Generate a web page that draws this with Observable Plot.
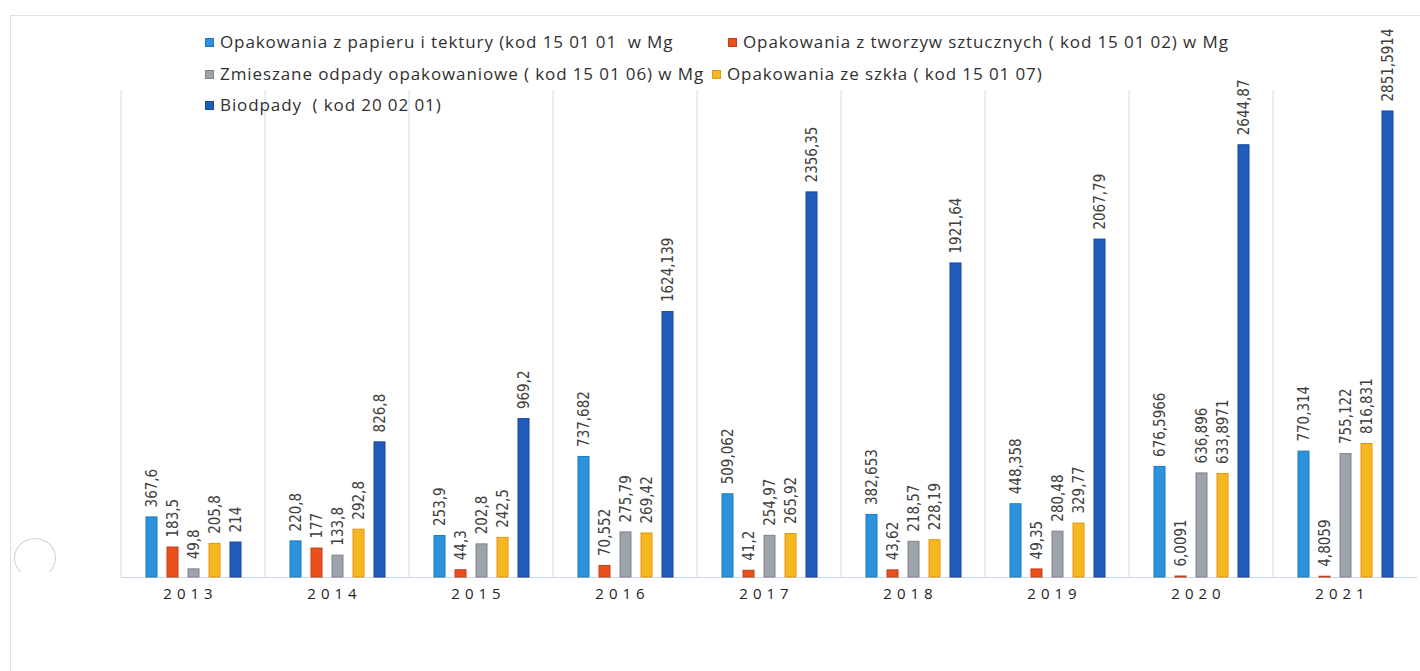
<!DOCTYPE html>
<html>
<head>
<meta charset="utf-8">
<script src="https://cdn.jsdelivr.net/npm/d3@7"></script>
<script src="https://cdn.jsdelivr.net/npm/@observablehq/plot@0.6"></script>
<style>
  html, body { margin: 0; padding: 0; background: #fff; overflow: hidden; }
  #wrap { position: relative; width: 1420px; height: 671px; }
  #chart { position: absolute; left: 0; top: 0; }
  #frame { position: absolute; left: 10px; top: 15px; width: 1420px; height: 670px;
           border-left: 1px solid #dde2ea; border-top: 1px solid #dde2ea; }
  #punch { position: absolute; left: 14px; top: 538px; width: 40px; height: 38px; border-radius: 50%;
           border: 1px solid #cfd2d6; border-bottom-color: transparent; }
  .leg { position: absolute; height: 20px; line-height: 20px; font-family: "Open Sans", sans-serif;
         font-size: 17px; letter-spacing: 0.9px; color: #303030; white-space: pre; }
  .leg i { display: inline-block; width: 9px; height: 9px; margin-right: 6px; vertical-align: 1px; box-sizing: border-box; }
  #chart [aria-label="fx-axis tick label"] text { letter-spacing: 5px; }
</style>
</head>
<body>
<div id="wrap">
  <div id="frame"></div>
  <div id="punch"></div>
  <div id="chart"></div>
</div>
<script>
const years = ["2013", "2014", "2015", "2016", "2017", "2018", "2019", "2020", "2021"];
const series = [
  "Opakowania z papieru i tektury (kod 15 01 01  w Mg",
  "Opakowania z tworzyw sztucznych ( kod 15 01 02) w Mg",
  "Zmieszane odpady opakowaniowe ( kod 15 01 06) w Mg",
  "Opakowania ze szkła ( kod 15 01 07)",
  "Biodpady  ( kod 20 02 01)"
];
const paper   = [367.6, 220.8, 253.9, 737.682, 509.062, 382.653, 448.358, 676.5966, 770.314];
const plastic = [183.5, 177, 44.3, 70.552, 41.2, 43.62, 49.35, 6.0091, 4.8059];
const mixed   = [49.8, 133.8, 202.8, 275.79, 254.97, 218.57, 280.48, 636.896, 755.122];
const glass   = [205.8, 292.8, 242.5, 269.42, 265.92, 228.19, 329.77, 633.8971, 816.831];
const bio     = [214, 826.8, 969.2, 1624.139, 2356.35, 1921.64, 2067.79, 2644.87, 2851.5914];

const colors  = ["#2b93dc", "#e8501e", "#9ea2ab", "#f7b622", "#1f5cbc"];
const strokes = ["#1f78bd", "#c13c14", "#7f838c", "#d99a12", "#17459a"];

const valueSets = [paper, plastic, mixed, glass, bio];
const data = [];
years.forEach((year, i) => {
  series.forEach((s, j) => {
    data.push({year, series: s, value: valueSets[j][i]});
  });
});
const fmt = v => String(v).replace(".", ",");

// legend (HTML, positioned over the chart)
const legendPos = [[205, 32], [728, 32], [205, 64], [712, 64], [205, 95]];
const wrap = document.getElementById("wrap");
series.forEach((s, j) => {
  const d = document.createElement("div");
  d.className = "leg";
  d.style.left = legendPos[j][0] + "px";
  d.style.top = legendPos[j][1] + "px";
  const sw = document.createElement("i");
  sw.style.background = colors[j];
  sw.style.border = "1px solid " + strokes[j];
  d.appendChild(sw);
  d.appendChild(document.createTextNode(s));
  wrap.appendChild(d);
});

const step = (1420 - 117) / years.length;

const chart = Plot.plot({
  width: 1420,
  height: 671,
  marginLeft: 117,
  marginRight: 0,
  marginTop: 90,
  marginBottom: 94,
  style: {background: "transparent", color: "#222", overflow: "visible"},
  fx: {domain: years, padding: 0, label: null},
  x: {domain: series, paddingInner: 0.5, paddingOuter: 1.12, axis: null},
  y: {domain: [0, 2980], axis: null},
  color: {domain: series, range: colors},
  marks: [
    Plot.gridFx({dx: -step / 2, stroke: "#d2dcea", strokeOpacity: 1, strokeWidth: 1}),
    Plot.ruleY([0], {stroke: "#cdd6e6", strokeWidth: 1.2}),
    Plot.barY(data, {
      fx: "year", x: "series", y: "value", fill: "series",
      stroke: d => strokes[series.indexOf(d.series)], strokeWidth: 1
    }),
    Plot.text(data, {
      fx: "year", x: "series", y: "value", text: d => fmt(d.value),
      rotate: -90, textAnchor: "start", dy: -10,
      fontFamily: "'Liberation Sans Narrow', 'DejaVu Sans Condensed', 'Roboto Condensed', sans-serif",
      fontSize: 15, fill: "#404040"
    }),
    Plot.axisFx({
      anchor: "bottom", tickSize: 0, tickPadding: 11, fontSize: 15, dx: -3, label: null,
      fontFamily: "'Open Sans', sans-serif", fill: "#222"
    })
  ]
});
document.getElementById("chart").appendChild(chart);
</script>
</body>
</html>
